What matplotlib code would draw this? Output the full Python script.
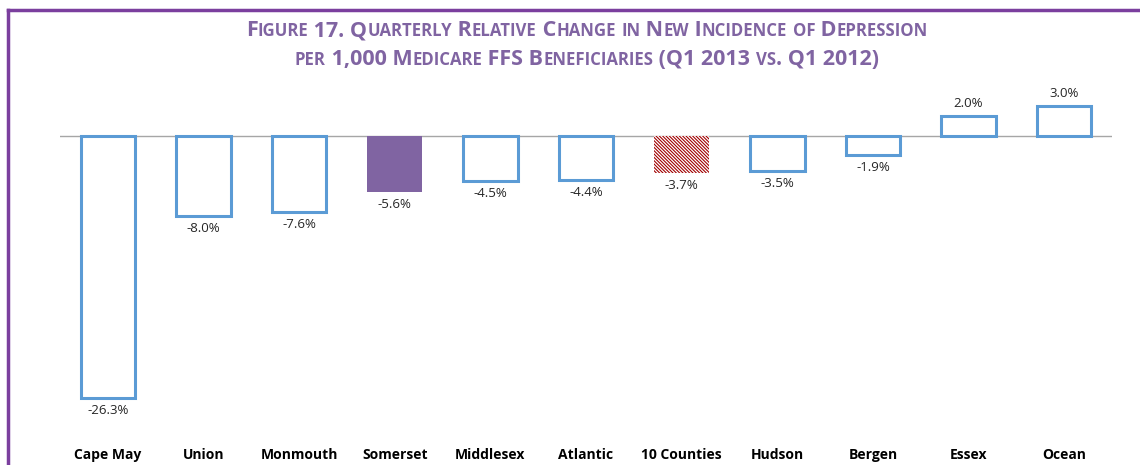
"""Figure 17 - quarterly relative change in new incidence of depression."""

import matplotlib
matplotlib.use("Agg")
import matplotlib.pyplot as plt
from matplotlib.lines import Line2D
from matplotlib.transforms import IdentityTransform

counties = ['Cape May', 'Union', 'Monmouth', 'Somerset', 'Middlesex',
            'Atlantic', '10 Counties', 'Hudson', 'Bergen', 'Essex', 'Ocean']
change = [-26.3, -8.0, -7.6, -5.6, -4.5, -4.4, -3.7, -3.5, -1.9, 2.0, 3.0]
highlight = 'Somerset'
average = '10 Counties'

title_lines = ['Figure 17. Quarterly Relative Change in New Incidence of Depression',
               'per 1,000 Medicare FFS Beneficiaries (Q1 2013 vs. Q1 2012)']

blue = '#5B9BD5'
purple = '#8064A2'
frame_purple = '#7B3F9E'

plt.rcParams['font.family'] = ['Open Sans', 'DejaVu Sans']
plt.rcParams['hatch.linewidth'] = 0.8

W, H = 1140, 465
fig = plt.figure(figsize=(W / 100, H / 100), dpi=100)
ax = fig.add_axes([60 / W, 0.097, 1052 / W, 0.7177])

x = list(range(len(counties)))
for i, (name, v) in enumerate(zip(counties, change)):
    if name == highlight:
        ax.bar(i, v, width=0.57, color=purple, edgecolor=purple, linewidth=0)
    elif name == average:
        ax.bar(i, v, width=0.57, color='white', edgecolor='#A00000',
               linewidth=0, hatch='\\' * 10)
    else:
        ax.bar(i, v, width=0.57, color='white', edgecolor=blue, linewidth=2.2)
    off = 6 if v > 0 else -6
    ax.annotate('{:.1f}%'.format(v), (i, v), xytext=(0, off),
                textcoords='offset pixels', ha='center',
                va='bottom' if v > 0 else 'top', fontsize=9.5, color='#262626')

ax.axhline(0, color='#A6A6A6', linewidth=1, zorder=0)
ax.set_xlim(-0.5, 10.5)
ax.set_ylim(-28.5, 5.0)
ax.set_xticks(x)
ax.set_xticklabels(counties, fontsize=10, fontweight='bold')
ax.tick_params(axis='x', length=0, pad=20)
ax.set_yticks([])
for s in ax.spines.values():
    s.set_visible(False)

# purple frame along the top and left edges
fig.add_artist(Line2D([7.5 / W, 1], [1 - 10 / H, 1 - 10 / H], color=frame_purple,
                      linewidth=2.5, transform=fig.transFigure))
fig.add_artist(Line2D([7.5 / W, 7.5 / W], [0, 1 - 10 / H], color=frame_purple,
                      linewidth=2.5, transform=fig.transFigure))


def small_caps_line(text, cx, baseline, size, ratio=0.78):
    """Draw text in small caps centred on cx (pixels)."""
    runs = []
    for ch in text:
        small = ch.islower()
        if runs and runs[-1][1] == small:
            runs[-1][0] += ch
        else:
            runs.append([ch, small])
    renderer = fig.canvas.get_renderer()
    artists = []
    for chunk, small in runs:
        t = fig.text(0, baseline, chunk.upper(), transform=IdentityTransform(),
                     fontsize=size * ratio if small else size,
                     fontweight='bold', color=purple, va='baseline')
        artists.append(t)
    widths = [a.get_window_extent(renderer).width for a in artists]
    xpos = cx - sum(widths) / 2
    for a, w in zip(artists, widths):
        a.set_x(xpos)
        xpos += w


small_caps_line(title_lines[0], 587, H - 36, 15.5)
small_caps_line(title_lines[1], 587, H - 65, 15.5)

fig.savefig('out.png', dpi=100)
